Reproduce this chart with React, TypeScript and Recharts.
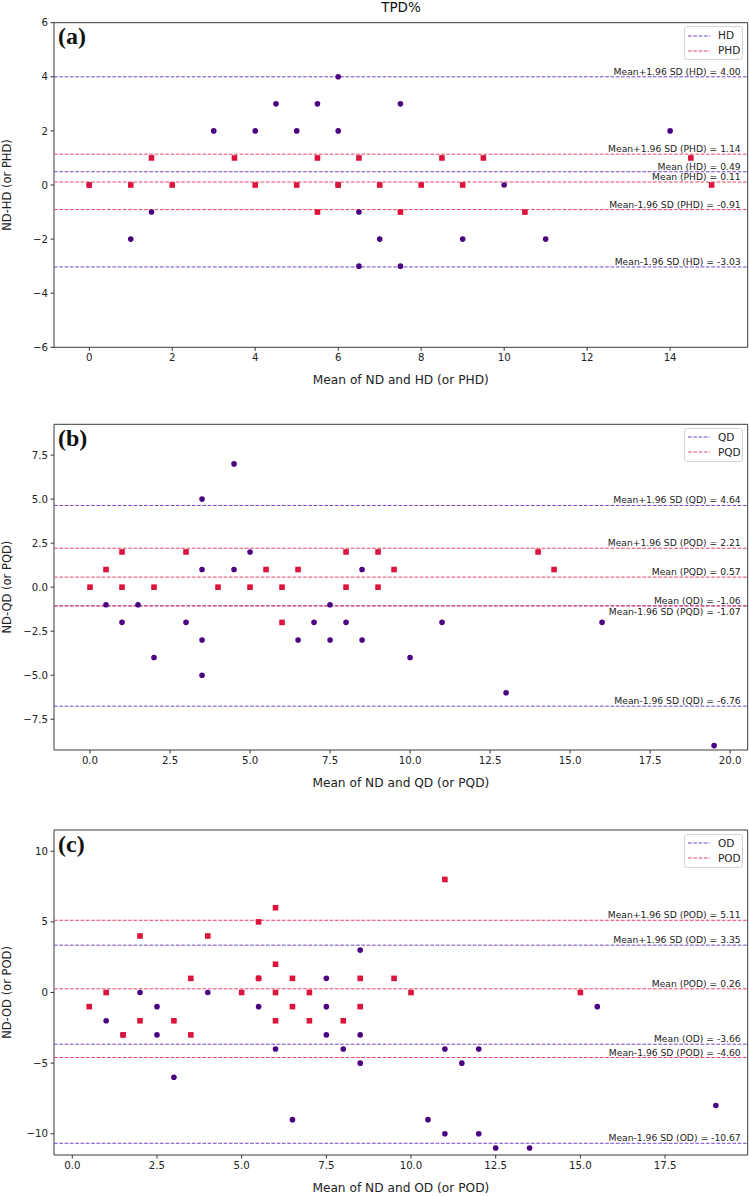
import { ScatterChart, Scatter, XAxis, YAxis, ReferenceLine, ReferenceArea, Legend } from 'recharts'

const FONT = '"DejaVu Sans", Verdana, sans-serif'
const W = 749
const PURPLE = '#4B0082'
const CRIMSON = '#DC143C'
const PURPLE_LINE = '#7446C2'
const RED_LINE = '#E84667'
const DASH = '3.7 1.6'

type Pt = { x: number; y: number }

// (a) ND vs HD / PHD
const aHD: Pt[] = [
  { x: 0, y: 0 }, { x: 1, y: -2 }, { x: 1.5, y: -1 }, { x: 3, y: 2 }, { x: 4, y: 2 }, { x: 4.5, y: 3 },
  { x: 5, y: 2 }, { x: 5.5, y: 3 }, { x: 6, y: 4 }, { x: 6, y: 2 }, { x: 6, y: 0 }, { x: 6.5, y: -1 },
  { x: 6.5, y: -3 }, { x: 7, y: -2 }, { x: 7.5, y: 3 }, { x: 7.5, y: -3 }, { x: 9, y: -2 }, { x: 10, y: 0 },
  { x: 11, y: -2 }, { x: 14, y: 2 },
]
const aPHD: Pt[] = [
  { x: 0, y: 0 }, { x: 1, y: 0 }, { x: 1.5, y: 1 }, { x: 2, y: 0 }, { x: 3.5, y: 1 }, { x: 4, y: 0 },
  { x: 5, y: 0 }, { x: 5.5, y: 1 }, { x: 5.5, y: -1 }, { x: 6, y: 0 }, { x: 6.5, y: 1 }, { x: 7, y: 0 },
  { x: 7.5, y: -1 }, { x: 8, y: 0 }, { x: 8.5, y: 1 }, { x: 9, y: 0 }, { x: 9.5, y: 1 }, { x: 10.5, y: -1 },
  { x: 14.5, y: 1 }, { x: 15, y: 0 },
]
const aStatsHD = [4.0, 0.49, -3.03]
const aStatsPHD = [1.14, 0.11, -0.91]
const aXTicks = [0, 2, 4, 6, 8, 10, 12, 14]
const aYTicks = [-6, -4, -2, 0, 2, 4, 6]

// (b) ND vs QD / PQD
const bQD: Pt[] = [
  { x: 0.5, y: -1 }, { x: 1, y: -2 }, { x: 1.5, y: -1 }, { x: 2, y: -4 }, { x: 3, y: -2 }, { x: 3.5, y: 5 },
  { x: 3.5, y: 1 }, { x: 3.5, y: -3 }, { x: 3.5, y: -5 }, { x: 4.5, y: 7 }, { x: 4.5, y: 1 }, { x: 5, y: 2 },
  { x: 6.5, y: -3 }, { x: 7, y: -2 }, { x: 7.5, y: -1 }, { x: 7.5, y: -3 }, { x: 8, y: -2 }, { x: 8.5, y: 1 },
  { x: 8.5, y: -3 }, { x: 10, y: -4 }, { x: 11, y: -2 }, { x: 13, y: -6 }, { x: 16, y: -2 }, { x: 19.5, y: -9 },
]
const bPQD: Pt[] = [
  { x: 0, y: 0 }, { x: 0.5, y: 1 }, { x: 1, y: 2 }, { x: 1, y: 0 }, { x: 2, y: 0 }, { x: 3, y: 2 },
  { x: 4, y: 0 }, { x: 5, y: 0 }, { x: 5.5, y: 1 }, { x: 6, y: 0 }, { x: 6, y: -2 }, { x: 6.5, y: 1 },
  { x: 8, y: 2 }, { x: 8, y: 0 }, { x: 9, y: 2 }, { x: 9, y: 0 }, { x: 9.5, y: 1 }, { x: 14, y: 2 },
  { x: 14.5, y: 1 },
]
const bStatsQD = [4.64, -1.06, -6.76]
const bStatsPQD = [2.21, 0.57, -1.07]
const bXTicks = [0, 2.5, 5, 7.5, 10, 12.5, 15, 17.5, 20]
const bYTicks = [-7.5, -5, -2.5, 0, 2.5, 5, 7.5]

// (c) ND vs OD / POD
const cOD: Pt[] = [
  { x: 1, y: -2 }, { x: 1.5, y: -3 }, { x: 2, y: 0 }, { x: 2.5, y: -1 }, { x: 2.5, y: -3 }, { x: 3, y: -6 },
  { x: 4, y: 0 }, { x: 5.5, y: 1 }, { x: 5.5, y: -1 }, { x: 6, y: -4 }, { x: 6.5, y: -9 }, { x: 7.5, y: 1 },
  { x: 7.5, y: -1 }, { x: 7.5, y: -3 }, { x: 8, y: -4 }, { x: 8.5, y: 3 }, { x: 8.5, y: -3 }, { x: 8.5, y: -5 },
  { x: 10.5, y: -9 }, { x: 11, y: -4 }, { x: 11, y: -10 }, { x: 11.5, y: -5 }, { x: 12, y: -4 }, { x: 12, y: -10 },
  { x: 12.5, y: -11 }, { x: 13.5, y: -11 }, { x: 15.5, y: -1 }, { x: 19, y: -8 },
]
const cPOD: Pt[] = [
  { x: 0.5, y: -1 }, { x: 1, y: 0 }, { x: 1.5, y: -3 }, { x: 2, y: 4 }, { x: 2, y: -2 }, { x: 3, y: -2 },
  { x: 3.5, y: 1 }, { x: 3.5, y: -3 }, { x: 4, y: 4 }, { x: 5, y: 0 }, { x: 5.5, y: 5 }, { x: 5.5, y: 1 },
  { x: 6, y: 6 }, { x: 6, y: 2 }, { x: 6, y: 0 }, { x: 6, y: -2 }, { x: 6.5, y: 1 }, { x: 6.5, y: -1 },
  { x: 7, y: 0 }, { x: 7, y: -2 }, { x: 8, y: -2 }, { x: 8.5, y: 1 }, { x: 8.5, y: -1 }, { x: 9.5, y: 1 },
  { x: 10, y: 0 }, { x: 11, y: 8 }, { x: 15, y: 0 },
]
const cStatsOD = [3.35, -3.66, -10.67]
const cStatsPOD = [5.11, 0.26, -4.6]
const cXTicks = [0, 2.5, 5, 7.5, 10, 12.5, 15, 17.5]
const cYTicks = [-10, -5, 0, 5, 10]

const statNames = ['Mean+1.96 SD', 'Mean', 'Mean-1.96 SD']

const fmtInt = (v: number) => (v < 0 ? '\u2212' : '') + Math.abs(v)
const fmt1 = (v: number) => (v < 0 ? '\u2212' : '') + Math.abs(v).toFixed(1)

// matplotlib-sized markers ('o' and 's', ~5.5px)
const Dot = (props: any) => <circle cx={props.cx} cy={props.cy} r={2.8} fill={PURPLE} />
const Sq = (props: any) => (
  <rect x={props.cx - 2.8} y={props.cy - 2.8} width={5.6} height={5.6} fill={CRIMSON} />
)

interface PanelProps {
  top: number
  height: number
  marginTop: number
  marginBottom: number
  xDomain: [number, number]
  yDomain: [number, number]
  xTicks: number[]
  yTicks: number[]
  xFmt: (v: number) => string
  yFmt: (v: number) => string
  names: [string, string]
  circles: Pt[]
  squares: Pt[]
  statsA: number[]
  statsB: number[]
  xLabel: string
  yLabel: string
  tag: string
  labelBelow?: string
}

function LegendBox({ names }: { names: string[] }) {
  const colors = [PURPLE_LINE, RED_LINE]
  return (
    <div
      style={{
        boxSizing: 'border-box',
        width: 59,
        height: 34,
        border: '1px solid #d4d4d4',
        borderRadius: 3,
        background: 'rgba(255,255,255,0.85)',
        padding: '1px 0 0 3px',
        fontFamily: FONT,
        fontSize: 10.5,
        color: '#222',
      }}
    >
      {names.map((n, i) => (
        <div key={n} style={{ display: 'flex', alignItems: 'center', height: 15 }}>
          <svg width={22} height={4}>
            <line x1={0} x2={22} y1={2} y2={2} stroke={colors[i]} strokeDasharray={DASH} />
          </svg>
          <span style={{ marginLeft: 8, lineHeight: '15px' }}>{n}</span>
        </div>
      ))}
    </div>
  )
}

function Panel(p: PanelProps) {
  const groups = [
    { name: p.names[0], stats: p.statsA, color: PURPLE_LINE },
    { name: p.names[1], stats: p.statsB, color: RED_LINE },
  ]
  return (
    <div style={{ position: 'absolute', left: 0, top: p.top, width: W, height: p.height }}>
      <ScatterChart
        width={W}
        height={p.height}
        margin={{ top: p.marginTop, right: 1.3, bottom: p.marginBottom, left: 0 }}
      >
        <XAxis
          type="number"
          dataKey="x"
          domain={p.xDomain}
          ticks={p.xTicks}
          interval={0}
          allowDataOverflow
          tickFormatter={p.xFmt}
          height={25}
          tickSize={3.5}
          tickMargin={3}
          axisLine={false}
          tickLine={{ stroke: '#333' }}
          tick={{ fontSize: 10.2, fill: '#222' }}
          label={{ value: p.xLabel, position: 'bottom', offset: 3, fontSize: 12.2, fill: '#222' }}
        />
        <YAxis
          type="number"
          dataKey="y"
          domain={p.yDomain}
          ticks={p.yTicks}
          interval={0}
          allowDataOverflow
          tickFormatter={p.yFmt}
          width={54}
          tickSize={3.5}
          tickMargin={2.5}
          axisLine={false}
          tickLine={{ stroke: '#333' }}
          tick={{ fontSize: 10.2, fill: '#222' }}
          label={{
            value: p.yLabel,
            angle: -90,
            position: 'insideLeft',
            offset: 6.7,
            fontSize: 11.5,
            fill: '#222',
            style: { textAnchor: 'middle' },
          }}
        />
        <ReferenceArea
          x1={p.xDomain[0]}
          x2={p.xDomain[1]}
          y1={p.yDomain[0]}
          y2={p.yDomain[1]}
          fill="none"
          fillOpacity={0}
          stroke="#3a3a3a"
          strokeWidth={1}
          ifOverflow="visible"
        />
        {groups.map((g) =>
          g.stats.map((v, i) => {
            const text = `${statNames[i]} (${g.name}) = ${v.toFixed(2)}`
            const below = p.labelBelow !== undefined && text.startsWith(p.labelBelow)
            return (
              <ReferenceLine
                key={text}
                y={v}
                stroke={g.color}
                strokeWidth={1}
                strokeDasharray={DASH}
                label={{
                  value: text,
                  position: below ? 'insideTopRight' : 'insideBottomRight',
                  offset: 2,
                  dx: -5,
                  fontSize: 9.2,
                  fill: '#222',
                }}
              />
            )
          })
        )}
        <Scatter name={p.names[0]} data={p.circles} shape={Dot} fill={PURPLE} isAnimationActive={false} />
        <Scatter name={p.names[1]} data={p.squares} shape={Sq} fill={CRIMSON} isAnimationActive={false} />
        <Legend
          layout="vertical"
          align="center"
          verticalAlign="middle"
          wrapperStyle={{ top: p.marginTop + 3.5, left: 684, width: 59, height: 34 }}
          content={() => <LegendBox names={p.names} />}
        />
      </ScatterChart>
      <div
        style={{
          position: 'absolute',
          left: 58,
          top: p.marginTop + 1.5,
          fontFamily: '"Liberation Serif", "Times New Roman", serif',
          fontWeight: 'bold',
          fontSize: 24,
          lineHeight: '24px',
          color: '#111',
        }}
      >
        {p.tag}
      </div>
    </div>
  )
}

export default function App() {
  return (
    <div
      style={{
        position: 'absolute',
        left: 0,
        top: 0,
        width: W,
        height: 1196,
        background: '#fff',
        fontFamily: FONT,
        overflow: 'hidden',
      }}
    >
      <div
        style={{
          position: 'absolute',
          left: 54,
          width: 694,
          top: 0,
          textAlign: 'center',
          fontSize: 13.5,
          lineHeight: '15px',
          color: '#111',
        }}
      >
        TPD%
      </div>
      <Panel
        top={0}
        height={390}
        marginTop={22.7}
        marginBottom={17.7}
        xDomain={[-0.85, 15.87]}
        yDomain={[-6, 6]}
        xTicks={aXTicks}
        yTicks={aYTicks}
        xFmt={fmtInt}
        yFmt={fmtInt}
        names={['HD', 'PHD']}
        circles={aHD}
        squares={aPHD}
        statsA={aStatsHD}
        statsB={aStatsPHD}
        xLabel="Mean of ND and HD (or PHD)"
        yLabel="ND-HD (or PHD)"
        tag="(a)"
      />
      <Panel
        top={395}
        height={400}
        marginTop={29.3}
        marginBottom={20}
        xDomain={[-1.125, 20.55]}
        yDomain={[-9.25, 9.25]}
        xTicks={bXTicks}
        yTicks={bYTicks}
        xFmt={fmt1}
        yFmt={fmt1}
        names={['QD', 'PQD']}
        circles={bQD}
        squares={bPQD}
        statsA={bStatsQD}
        statsB={bStatsPQD}
        xLabel="Mean of ND and QD (or PQD)"
        yLabel="ND-QD (or PQD)"
        tag="(b)"
        labelBelow="Mean-1.96 SD (PQD)"
      />
      <Panel
        top={795}
        height={401}
        marginTop={35}
        marginBottom={16}
        xDomain={[-0.54, 19.94]}
        yDomain={[-11.5, 11.5]}
        xTicks={cXTicks}
        yTicks={cYTicks}
        xFmt={fmt1}
        yFmt={fmtInt}
        names={['OD', 'POD']}
        circles={cOD}
        squares={cPOD}
        statsA={cStatsOD}
        statsB={cStatsPOD}
        xLabel="Mean of ND and OD (or POD)"
        yLabel="ND-OD (or POD)"
        tag="(c)"
      />
    </div>
  )
}
